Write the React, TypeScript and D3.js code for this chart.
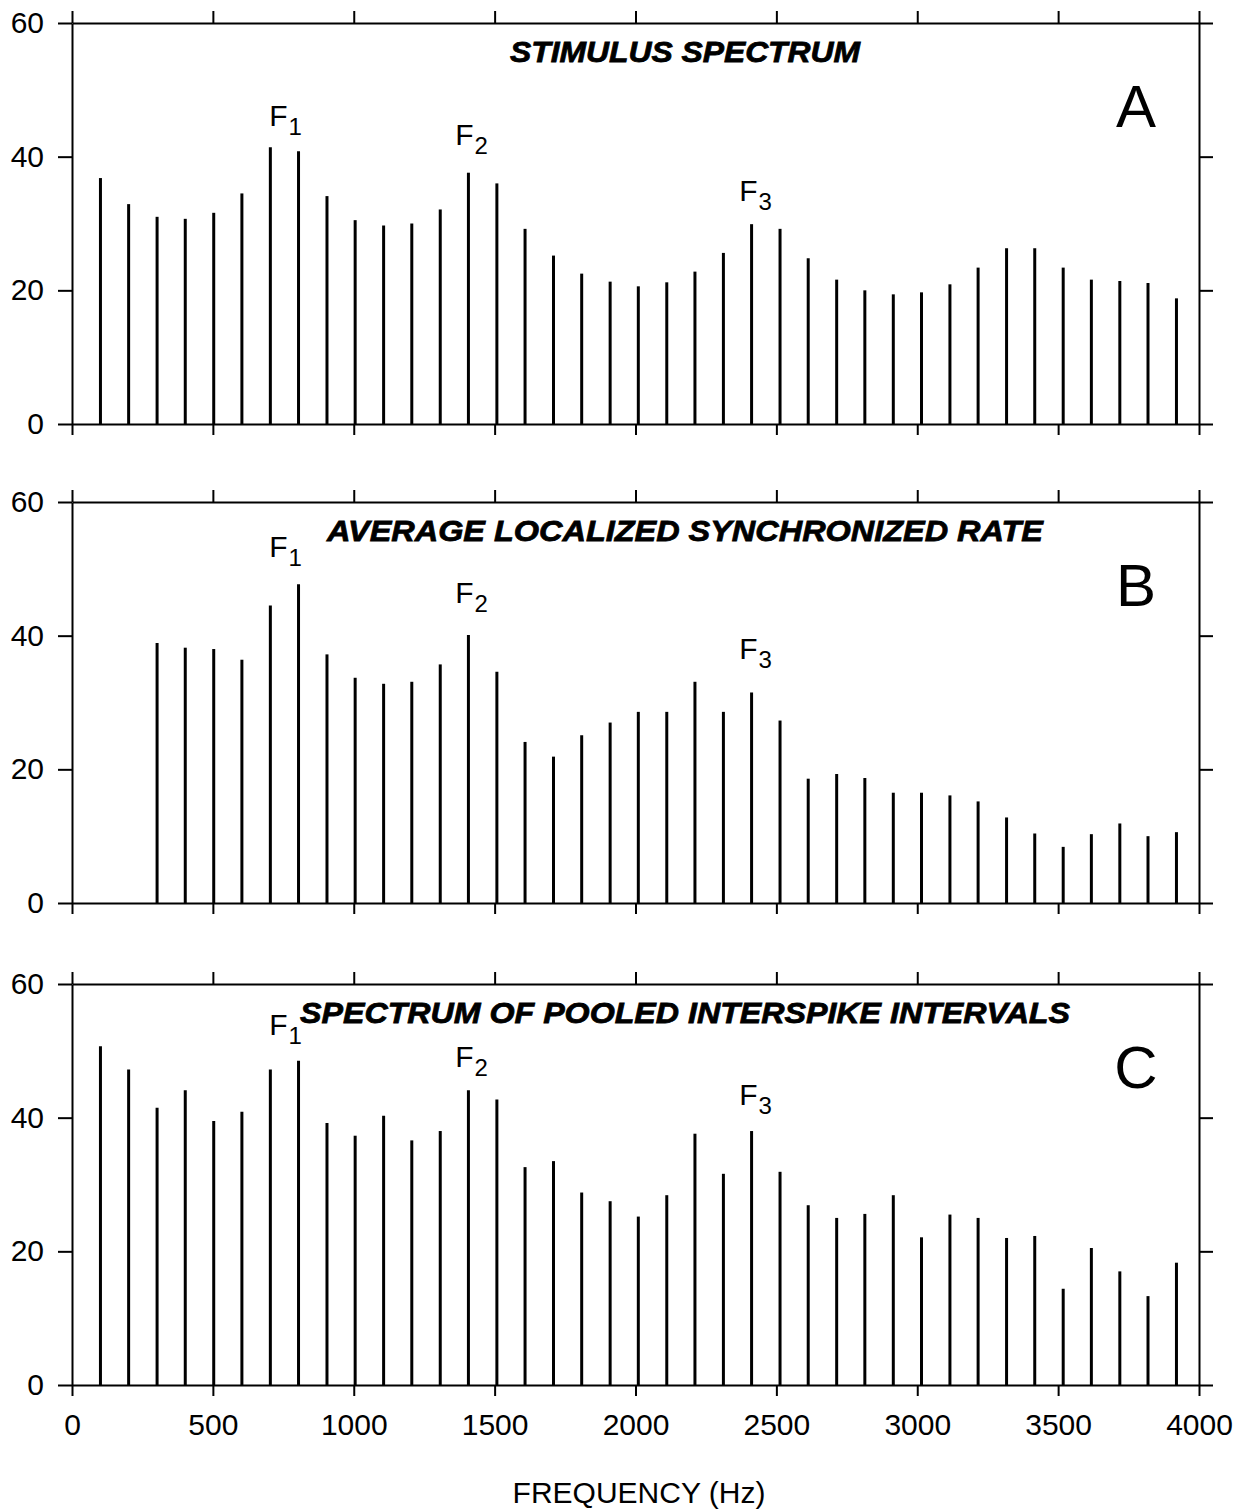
import React, { useEffect } from "react";
import * as d3 from "d3";

// harmonic frequencies (Hz)
const harmonicHz = [
  101, 201, 302, 402, 503, 603, 704, 804, 905, 1005, 1106, 1206, 1307, 1407,
  1508, 1608, 1709, 1809, 1910, 2010, 2111, 2211, 2312, 2412, 2513, 2613,
  2714, 2814, 2915, 3015, 3116, 3216, 3317, 3417, 3518, 3618, 3719, 3819,
  3920,
];

// A: stimulus spectrum
const stimulusLevels = [
  36.8, 32.9, 31.0, 30.7, 31.6, 34.5, 41.4, 40.8, 34.1, 30.5, 29.7, 30.0,
  32.1, 37.6, 36.0, 29.2, 25.2, 22.5, 21.3, 20.6, 21.2, 22.8, 25.6, 29.9,
  29.2, 24.8, 21.6, 20.0, 19.4, 19.7, 20.9, 23.4, 26.3, 26.3, 23.4, 21.6,
  21.4, 21.1, 18.8,
];

// B: average localized synchronized rate (no values for first 2 harmonics)
const alsrLevels = [
  null, null, 38.9, 38.2, 38.0, 36.4, 44.5, 47.7, 37.2, 33.7, 32.8, 33.1,
  35.7, 40.1, 34.6, 24.1, 21.9, 25.1, 27.0, 28.6, 28.6, 33.1, 28.6, 31.5,
  27.3, 18.6, 19.3, 18.7, 16.5, 16.5, 16.1, 15.2, 12.8, 10.4, 8.4, 10.3,
  11.9, 10.0, 10.6,
];

// C: spectrum of pooled interspike intervals
const isiLevels = [
  50.7, 47.2, 41.5, 44.1, 39.5, 40.9, 47.2, 48.5, 39.2, 37.3, 40.3, 36.6,
  38.0, 44.1, 42.7, 32.6, 33.5, 28.8, 27.5, 25.2, 28.4, 37.6, 31.6, 38.0,
  31.9, 26.9, 25.0, 25.6, 28.4, 22.1, 25.5, 25.0, 22.0, 22.3, 14.4, 20.5,
  17.0, 13.3, 18.3,
];

const panelTitles = [
  "STIMULUS SPECTRUM",
  "AVERAGE LOCALIZED SYNCHRONIZED RATE",
  "SPECTRUM OF POOLED INTERSPIKE INTERVALS",
];
const panelLetters = ["A", "B", "C"];

const xTicks = [0, 500, 1000, 1500, 2000, 2500, 3000, 3500, 4000];
const yTicks = [0, 20, 40, 60];

// formant label anchors: [subscript, Hz, level]
const formantsA: [string, number, number][] = [
  ["1", 700, 44.6],
  ["2", 1360, 41.8],
  ["3", 2368, 33.4],
];
const formantsB: [string, number, number][] = [
  ["1", 700, 51.8],
  ["2", 1360, 44.9],
  ["3", 2368, 36.5],
];
const formantsC: [string, number, number][] = [
  ["1", 700, 52.4],
  ["2", 1360, 47.6],
  ["3", 2368, 41.9],
];

const FONT = "'Liberation Sans', Arial, Helvetica, sans-serif";

function createChart(container: string) {
  d3.select(container).select("svg").remove();
  const W = 1238,
    H = 1511;
  const left = 72,
    right = 1199;
  const panelTops = [23, 502, 984];
  const panelH = 401;
  const titleWidths = [350, 716, 770];

  const svg = d3
    .select(container)
    .append("svg")
    .attr("width", W)
    .attr("height", H)
    .style("display", "block")
    .style("background", "#fff");

  const x = d3.scaleLinear().domain([0, 4000]).range([left, right]);

  const series = [stimulusLevels, alsrLevels, isiLevels];
  const formants = [formantsA, formantsB, formantsC];

  series.forEach((levels, i) => {
    const top = panelTops[i];
    const y = d3.scaleLinear().domain([0, 60]).range([top + panelH, top]);
    const g = svg.append("g");

    // stems
    const pts = harmonicHz
      .map((f, k) => ({ f, v: levels[k] }))
      .filter((d) => d.v != null) as { f: number; v: number }[];
    g.selectAll(".stem")
      .data(pts)
      .enter()
      .append("line")
      .attr("class", "stem")
      .attr("x1", (d) => x(d.f))
      .attr("x2", (d) => x(d.f))
      .attr("y1", y(0))
      .attr("y2", (d) => y(d.v))
      .attr("stroke", "#000")
      .attr("stroke-width", 3);

    // box with outward ticks on all four sides
    const axL = g
      .append("g")
      .attr("transform", `translate(${left},0)`)
      .call(d3.axisLeft(y).tickValues(yTicks).tickSize(14).tickSizeOuter(0).tickPadding(14));
    g.append("g")
      .attr("transform", `translate(${right},0)`)
      .call(d3.axisRight(y).tickValues(yTicks).tickSize(14).tickSizeOuter(0).tickFormat(() => ""));
    g.append("g")
      .attr("transform", `translate(0,${top})`)
      .call(d3.axisTop(x).tickValues(xTicks).tickSize(12).tickSizeOuter(0).tickFormat(() => ""));
    const axB = g
      .append("g")
      .attr("transform", `translate(0,${top + panelH})`)
      .call(
        d3
          .axisBottom(x)
          .tickValues(xTicks)
          .tickSize(11)
          .tickSizeOuter(0)
          .tickPadding(18)
          .tickFormat((d) => (i === 2 ? String(d) : ""))
      );

    g.selectAll(".domain, .tick line")
      .attr("stroke", "#000")
      .attr("stroke-width", 2);
    axL.selectAll("text").attr("font-size", 30).attr("font-family", FONT).attr("fill", "#000");
    axB.selectAll("text").attr("font-size", 30).attr("font-family", FONT).attr("fill", "#000");

    // title
    g.append("text")
      .attr("x", 685)
      .attr("y", top + 39)
      .attr("text-anchor", "middle")
      .attr("font-family", FONT)
      .attr("font-weight", "bold")
      .attr("font-style", "italic")
      .attr("font-size", 30)
      .attr("stroke", "#000")
      .attr("stroke-width", 0.8)
      .attr("textLength", titleWidths[i])
      .attr("lengthAdjust", "spacingAndGlyphs")
      .text(panelTitles[i]);

    // panel letter
    g.append("text")
      .attr("x", 1136)
      .attr("y", top + 104)
      .attr("text-anchor", "middle")
      .attr("font-family", FONT)
      .attr("font-size", 60)
      .text(panelLetters[i]);

    // formant labels
    formants[i].forEach(([sub, hz, lvl]) => {
      const t = g
        .append("text")
        .attr("x", x(hz))
        .attr("y", y(lvl))
        .attr("font-family", FONT)
        .attr("font-size", 30);
      t.append("tspan").text("F");
      t.append("tspan").attr("dx", 1).attr("dy", 9).attr("font-size", 24).text(sub);
    });
  });

  // x axis label
  svg
    .append("text")
    .attr("x", 639)
    .attr("y", 1503)
    .attr("text-anchor", "middle")
    .attr("font-family", FONT)
    .attr("font-size", 30)
    .text("FREQUENCY (Hz)");
}

export default function App() {
  useEffect(() => {
    document.body.style.margin = "0";
    createChart("#chart0");
  }, []);

  return <div id="chart0"></div>;
}
